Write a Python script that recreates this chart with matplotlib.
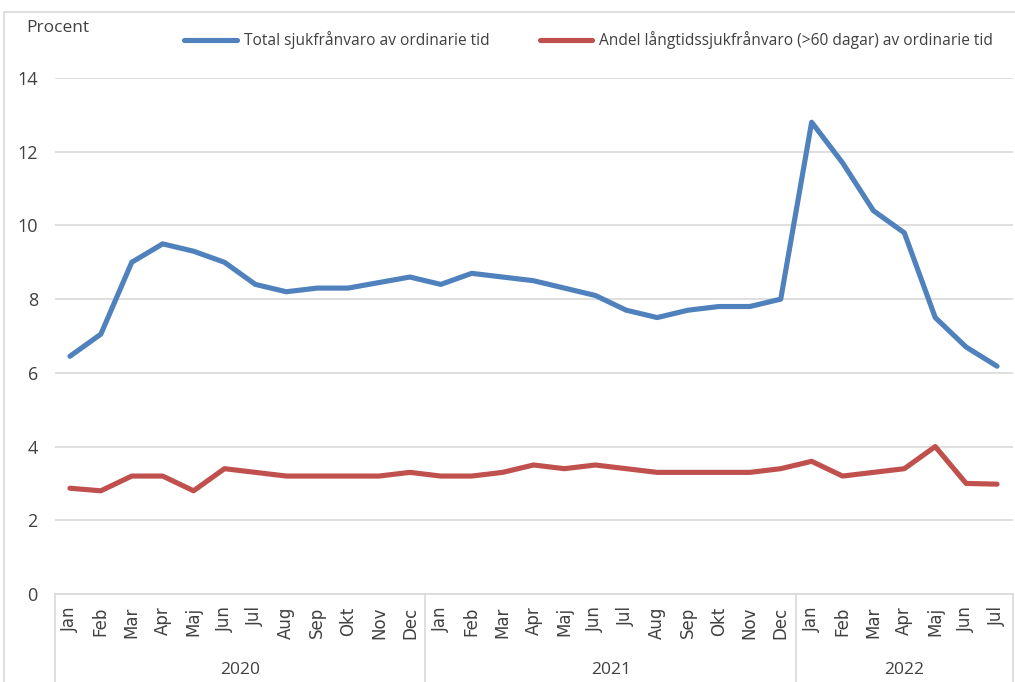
import matplotlib
matplotlib.use("Agg")
import matplotlib.pyplot as plt
import matplotlib.transforms as mtransforms
from matplotlib.patches import Rectangle

plt.rcParams["font.family"] = ["Open Sans", "DejaVu Sans"]

months_2020 = ["Jan", "Feb", "Mar", "Apr", "Maj", "Jun", "Jul", "Aug", "Sep", "Okt", "Nov", "Dec"]
months_2021 = ["Jan", "Feb", "Mar", "Apr", "Maj", "Jun", "Jul", "Aug", "Sep", "Okt", "Nov", "Dec"]
months_2022 = ["Jan", "Feb", "Mar", "Apr", "Maj", "Jun", "Jul"]
years = ["2020", "2021", "2022"]

total = [6.45, 7.05, 9.0, 9.5, 9.3, 9.0, 8.4, 8.2, 8.3, 8.3, 8.45, 8.6,
         8.4, 8.7, 8.6, 8.5, 8.3, 8.1, 7.7, 7.5, 7.7, 7.8, 7.8, 8.0,
         12.8, 11.7, 10.4, 9.8, 7.5, 6.7, 6.18]
lang = [2.87, 2.8, 3.2, 3.2, 2.8, 3.4, 3.3, 3.2, 3.2, 3.2, 3.2, 3.3,
        3.2, 3.2, 3.3, 3.5, 3.4, 3.5, 3.4, 3.3, 3.3, 3.3, 3.3, 3.4,
        3.6, 3.2, 3.3, 3.4, 4.0, 3.0, 2.98]

labels = months_2020 + months_2021 + months_2022
x = list(range(len(labels)))
groups = [len(months_2020), len(months_2021), len(months_2022)]

fig = plt.figure(figsize=(10.15, 6.82), dpi=100)
fig.patches.append(Rectangle((4 / 1015, -0.05), 1.1, 1 - 12 / 682 + 0.05,
                             transform=fig.transFigure, fill=False,
                             edgecolor="#d9d9d9", linewidth=1.2))
ax = fig.add_axes([54.5 / 1015, 88 / 682, 958 / 1015, 516 / 682])

blue = "#4F81BD"
red = "#C0504D"
ax.plot(x, total, color=blue, lw=3.7, solid_capstyle="round",
        label="Total sjukfrånvaro av ordinarie tid")
ax.plot(x, lang, color=red, lw=3.7, solid_capstyle="round",
        label="Andel långtidssjukfrånvaro (>60 dagar) av ordinarie tid")

ax.set_xlim(-0.5, len(labels) - 0.5)
ax.set_ylim(0, 14)
ax.set_yticks(range(0, 15, 2))
ax.grid(axis="y", color="#d9d9d9", lw=1.2)
ax.set_axisbelow(True)
for s in ["top", "right", "left"]:
    ax.spines[s].set_visible(False)
ax.spines["bottom"].set_color("#d9d9d9")
ax.spines["bottom"].set_linewidth(1.2)
ax.tick_params(axis="y", length=0, labelsize=13, colors="#404040", pad=12)
ax.set_xticks(x)
ax.set_xticklabels(labels, rotation=90, fontsize=12, color="#404040", family="DejaVu Sans")
ax.tick_params(axis="x", length=0, pad=9)

trans = mtransforms.blended_transform_factory(ax.transData, ax.transAxes)
start = 0
bounds = [-0.5]
for g, yr in zip(groups, years):
    end = start + g
    bounds.append(end - 0.5)
    ax.text((start + end - 1) / 2, -0.148, yr, transform=trans,
            ha="center", va="center", fontsize=12.5, color="#404040")
    start = end
for b in bounds:
    ax.plot([b, b], [0, -0.2], transform=trans, color="#d9d9d9", lw=1.2, clip_on=False)

fig.text(26 / 1015, 1 - 28 / 682, "Procent", fontsize=12.5, color="#404040", va="center")
fig.legend(loc="center left", bbox_to_anchor=(178 / 1015, 1 - 40 / 682), ncol=2,
           frameon=False, fontsize=11.2, handlelength=3.4, columnspacing=3.2,
           labelcolor="#404040", borderaxespad=0, handletextpad=0.45)

fig.savefig("out.png", dpi=100)
